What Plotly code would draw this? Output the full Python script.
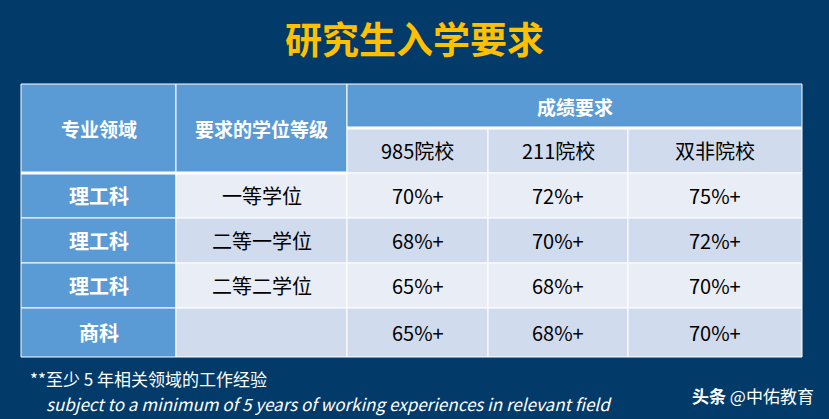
import plotly.graph_objects as go

title = "研究生入学要求"
head_fields = ["专业领域", "要求的学位等级"]
group_head = "成绩要求"
school_types = ["985院校", "211院校", "双非院校"]
fields = ["理工科", "理工科", "理工科", "商科"]
degrees = ["一等学位", "二等一学位", "二等二学位", ""]
req_985 = ["70%+", "68%+", "65%+", "65%+"]
req_211 = ["72%+", "70%+", "68%+", "68%+"]
req_dual = ["75%+", "72%+", "70%+", "70%+"]
note_cn = "**至少 5 年相关领域的工作经验"
note_en = "subject to a minimum of 5 years of working experiences in relevant field"
brand = "<b>头条</b> @中佑教育"

BG = "#023B69"
BLUE = "#5B9BD5"
LIGHT = "#E9EDF6"
MID = "#D0DBEE"
FONT = "Noto Sans CJK SC"

xs = [21, 176, 347, 488, 628, 802]
ys = [84, 173, 218, 263, 308, 357]
sub_y = 128

fig = go.Figure()
shapes = []
ann = []

def rect(x0, y0, x1, y1, fill):
    shapes.append(dict(type="rect", x0=x0, x1=x1, y0=y0, y1=y1, fillcolor=fill,
                       line=dict(color="white", width=1), layer="below"))

def text(x, y, s, size=20, color="black", bold=False):
    ann.append(dict(x=x, y=y, text=f"<b>{s}</b>" if bold else s, showarrow=False,
                    font=dict(size=size, color=color, family=FONT)))

# header
rect(xs[0], ys[0], xs[1], ys[1], BLUE)
rect(xs[1], ys[0], xs[2], ys[1], BLUE)
rect(xs[2], ys[0], xs[5], sub_y, BLUE)
for i, h in enumerate(head_fields):
    text((xs[i] + xs[i + 1]) / 2, (ys[0] + ys[1]) / 2, h, 19, "white", True)
text((xs[2] + xs[5]) / 2, (ys[0] + sub_y) / 2, group_head, 19, "white", True)
for j, s in enumerate(school_types):
    rect(xs[2 + j], sub_y, xs[3 + j], ys[1], MID)
    text((xs[2 + j] + xs[3 + j]) / 2, (sub_y + ys[1]) / 2, s)

cols = [degrees, req_985, req_211, req_dual]
for r in range(len(fields)):
    y0, y1 = ys[r + 1], ys[r + 2]
    fill = LIGHT if r % 2 == 0 else MID
    rect(xs[0], y0, xs[1], y1, BLUE)
    text((xs[0] + xs[1]) / 2, (y0 + y1) / 2, fields[r], 20, "white", True)
    for c, col in enumerate(cols):
        rect(xs[c + 1], y0, xs[c + 2], y1, fill)
        text((xs[c + 1] + xs[c + 2]) / 2, (y0 + y1) / 2, col[r])

# thick white separators
shapes.append(dict(type="line", x0=xs[0], x1=xs[2], y0=ys[1], y1=ys[1], line=dict(color="white", width=3)))
shapes.append(dict(type="line", x0=xs[2], x1=xs[5], y0=sub_y, y1=sub_y, line=dict(color="white", width=3)))

text(414, 38, title, 37, "#FFC000", True)
ann.append(dict(x=28, y=378, xanchor="left", text=note_cn, showarrow=False,
                font=dict(size=17, color="white", family=FONT)))
ann.append(dict(x=44, y=403, xanchor="left", text=f"<i>{note_en}</i>", showarrow=False,
                font=dict(size=17, color="white", family="Liberation Sans Narrow, " + FONT)))
ann.append(dict(x=816, y=395, xanchor="right", text=brand, showarrow=False,
                font=dict(size=17, color="white", family=FONT)))

fig.update_layout(width=829, height=419, margin=dict(l=0, r=0, t=0, b=0),
                  paper_bgcolor=BG, plot_bgcolor=BG, shapes=shapes, annotations=ann,
                  xaxis=dict(range=[0, 829], visible=False, fixedrange=True),
                  yaxis=dict(range=[419, 0], visible=False, fixedrange=True),
                  showlegend=False)
fig.write_html("out.html", config={"displayModeBar": False},
               post_script="document.body.style.margin='0';document.body.style.overflow='hidden';")
